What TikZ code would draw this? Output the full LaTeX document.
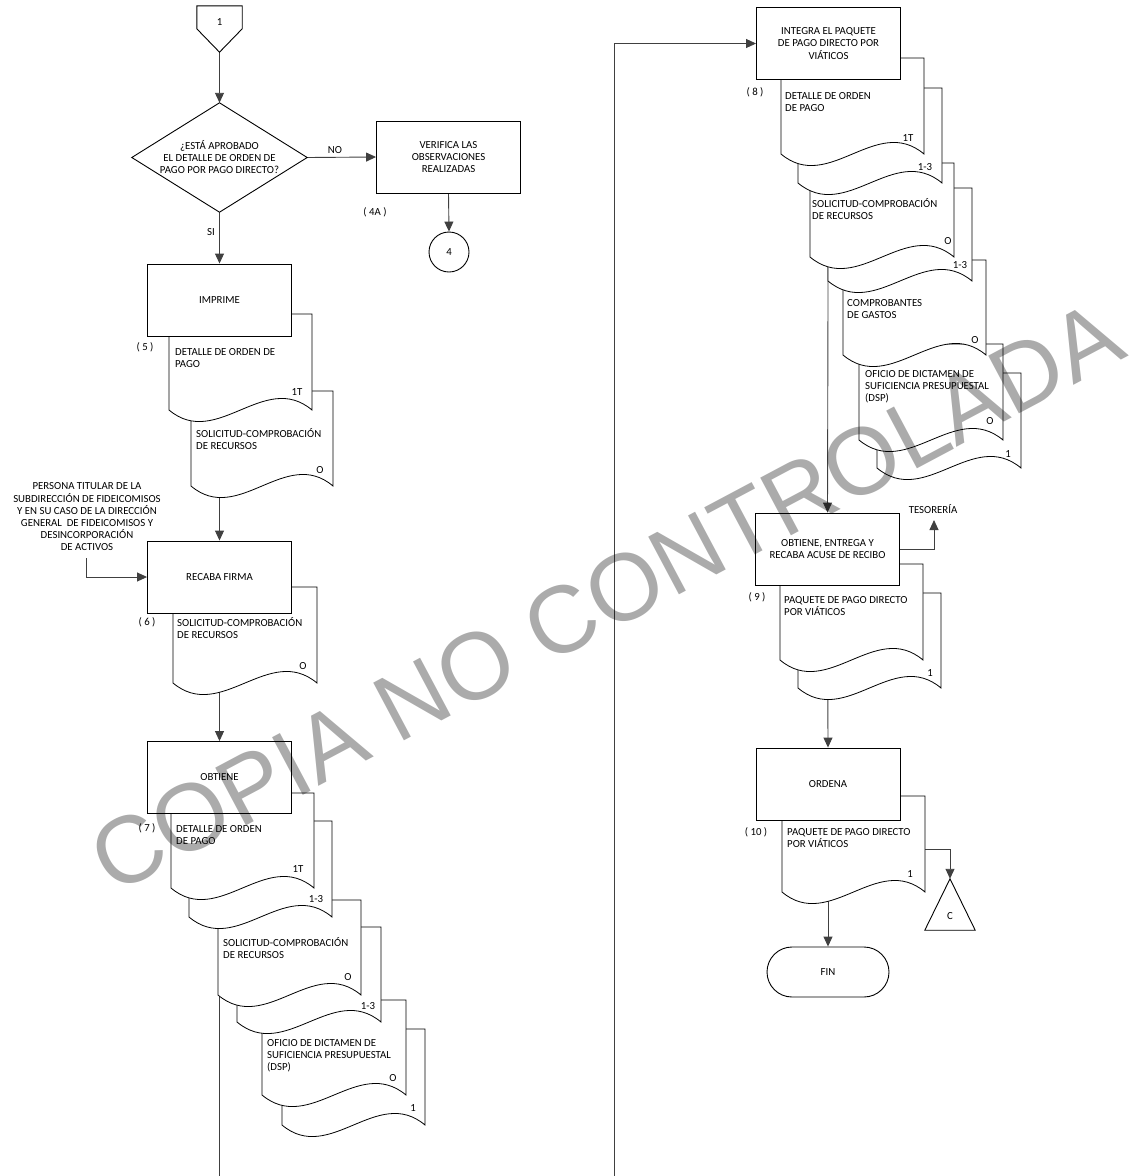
\documentclass[tikz,border=0pt]{standalone}
\usepackage{fontspec}
\setmainfont{Carlito}
\newfontfamily\wmfont{Liberation Sans}
\usetikzlibrary{arrows.meta,calc}
\pgfdeclarelayer{bg}
\pgfdeclarelayer{docs}
\pgfdeclarelayer{wm}
\pgfsetlayers{bg,docs,main,wm}
\newcommand\docsh[4]{%
  \draw[docline] (#1,#2) -- (#3,#2) -- (#3,#4)
    .. controls ($(#1,#4)!0.667!(#3,#4)+(0,-40)$) and ($(#1,#4)!0.333!(#3,#4)+(0,40)$) .. (#1,#4) -- cycle;}
\tikzset{
  txt/.style={font=\fontsize{10.8}{12.2}\selectfont},
  proc/.style={txt, draw=black, fill=white, line width=0.9pt, minimum width=144, minimum height=72, align=center, inner sep=2pt},
  shapeline/.style={draw=black, line width=0.9pt, fill=white},
  conn/.style={line width=0.9pt, draw=black!75, -{Triangle[length=10pt,width=9pt]}},
  plainconn/.style={line width=0.9pt, draw=black!75},
  docline/.style={draw=black, fill=white, line width=0.8pt},
  dtxt/.style={txt, anchor=base west, align=left, inner sep=0pt},
  nlab/.style={txt, anchor=base, inner sep=0pt},
  clab/.style={txt, inner sep=0pt}
}
\begin{document}
\begin{tikzpicture}[x=1pt,y=-1pt]
\useasboundingbox (0,0) rectangle (1146,1176);

% ---------------- process boxes ----------------
\node[proc] (imprime) at (219.5,300) {IMPRIME};
\node[proc] (recaba) at (219.5,577) {RECABA FIRMA};
\node[proc] (obtiene) at (219.5,777.5) {OBTIENE};
\node[proc] (verif) at (448.5,157) {VERIFICA LAS\\OBSERVACIONES\\REALIZADAS};
\node[proc] (integra) at (828.5,43.5) {INTEGRA EL PAQUETE\\DE PAGO DIRECTO POR\\VIÁTICOS};
\node[proc] (obt2) at (827.5,549) {OBTIENE, ENTREGA Y\\RECABA ACUSE DE RECIBO};
\node[proc] (ordena) at (828,784) {ORDENA};
\node[txt, draw=black, fill=white, line width=0.9pt, rounded corners=25pt, minimum width=122, minimum height=50] (fin) at (828,972) {FIN};
\node[txt, draw=black, line width=0.9pt, circle, minimum size=40, inner sep=0pt] (c4) at (449,252) {4};

% decision
\node[minimum width=175, minimum height=109, inner sep=0pt] (dec) at (219.5,157.5) {};
\draw[shapeline] (dec.north) -- (dec.east) -- (dec.south) -- (dec.west) -- cycle;
\node[txt, align=center, inner sep=0pt] (dectxt) at (219.5,157) {¿ESTÁ APROBADO\\EL DETALLE DE ORDEN DE\\PAGO POR PAGO DIRECTO?};

% off-page connector 1
\node[minimum width=45, minimum height=46, inner sep=0pt] (p1) at (219.5,29) {};
\draw[shapeline] (p1.north west) -- (p1.north east) -- ($(p1.north east)+(0,23)$) -- (p1.south) -- ($(p1.north west)+(0,23)$) -- cycle;
\node[clab] (p1lab) at (219.5,22) {1};

% triangle C
\node[minimum width=50, minimum height=51, inner sep=0pt] (tc) at (950,904.5) {};
\draw[shapeline] (tc.north) -- (tc.south east) -- (tc.south west) -- cycle;
\node[clab] (tclab) at (950,916) {C};

% ---------------- free labels ----------------
\node[clab] (lno) at (335,150) {NO};
\node[clab] (lsi) at (211,232) {SI};
\node[clab] (l4a) at (375,212) {( 4A )};
\node[clab] (l5) at (145,347) {( 5 )};
\node[clab] (l6) at (147,622) {( 6 )};
\node[clab] (l7) at (147,828) {( 7 )};
\node[clab] (l8) at (755,92) {( 8 )};
\node[clab] (l9) at (757,597) {( 9 )};
\node[clab] (l10) at (756,832) {( 10 )};
\node[txt, align=center, inner sep=0pt] (pers) at (87,517) {PERSONA TITULAR DE LA\\SUBDIRECCIÓN DE FIDEICOMISOS\\Y EN SU CASO DE LA DIRECCIÓN\\GENERAL\ \ DE FIDEICOMISOS Y\\DESINCORPORACIÓN\\DE ACTIVOS};
\node[clab] (tes) at (933,509) {TESORERÍA};
\coordinate (persstart) at (86,558);
\coordinate (tesarr) at (934,520);
\coordinate (cstart) at (925,849);
\coordinate (leftend) at (219.5,1176);
\coordinate (rightend) at (614,1176);

% ---------------- connectors ----------------
\begin{pgfonlayer}{bg}
\draw[conn] (p1.south) -- (dec.north);
\draw[conn] (dec.east) -- (verif.west);
\draw[conn] (verif.south) -- (c4.north);
\draw[conn] (dec.south) -- (imprime.north);
\draw[conn] (imprime.south) -- (recaba.north);
\draw[conn] (persstart) |- (recaba.west);
\draw[conn] (recaba.south) -- (obtiene.north);
\draw[plainconn] (obtiene.south) -- (leftend);
\draw[conn] (rightend) |- (integra.west);
\draw[conn] (integra.south) -- (obt2.north);
\draw[conn] (obt2.east) -| (tesarr);
\draw[conn] (obt2.south) -- (ordena.north);
\draw[conn] (cstart) -| (tc.north);
\draw[conn] (ordena.south) -- (fin.north);
\end{pgfonlayer}

% ---------------- documents ----------------
\begin{pgfonlayer}{docs}
% step 5
\docsh{191}{391}{333}{486}
\docsh{169}{314}{312}{410}
% step 6
\docsh{173}{587}{317}{683}
% step 7
\docsh{282}{1029}{425}{1125}
\docsh{262}{1000}{406}{1095}
\docsh{237}{927}{381}{1022}
\docsh{218}{900}{361}{995}
\docsh{189}{821}{332}{917}
\docsh{171}{793}{314}{888}
% step 8
\docsh{877}{373}{1021}{468}
\docsh{859}{344}{1003}{440}
\docsh{843}{260}{986}{355}
\docsh{828}{188}{972}{281}
\docsh{810}{163}{954}{257}
\docsh{798}{88}{942}{183}
\docsh{781}{58}{924}{154}
% step 9
\docsh{798}{593}{941}{688}
\docsh{780}{564}{923}{660}
% step 10
\docsh{782}{796}{925}{892}
\end{pgfonlayer}

% ---------------- document texts (base = last line) ----------------
% step 5
\node[dtxt] (t5a) at (175,367.2) {DETALLE DE ORDEN DE\\PAGO};
\node[nlab] (t5b) at (297,395) {1T};
\node[dtxt] (t5c) at (196,449.2) {SOLICITUD-COMPROBACIÓN\\DE RECURSOS};
\node[nlab] (t5d) at (320,473) {O};
% step 6
\node[dtxt] (t6a) at (177,638.2) {SOLICITUD-COMPROBACIÓN\\DE RECURSOS};
\node[nlab] (t6b) at (303,669) {O};
% step 7
\node[dtxt] (t7a) at (176,844.2) {DETALLE DE ORDEN\\DE PAGO};
\node[nlab] (t7b) at (298,872) {1T};
\node[nlab] (t7c) at (316,902) {1-3};
\node[dtxt] (t7d) at (223,958.2) {SOLICITUD-COMPROBACIÓN\\DE RECURSOS};
\node[nlab] (t7e) at (348,980) {O};
\node[nlab] (t7f) at (368,1009) {1-3};
\node[dtxt] (t7g) at (267,1070.4) {OFICIO DE DICTAMEN DE\\SUFICIENCIA PRESUPUESTAL\\(DSP)};
\node[nlab] (t7h) at (393,1081) {O};
\node[nlab] (t7i) at (413,1111) {1};
% step 8
\node[dtxt] (t8a) at (785,111.2) {DETALLE DE ORDEN\\DE PAGO};
\node[nlab] (t8b) at (908,141) {1T};
\node[nlab] (t8c) at (925,170) {1-3};
\node[dtxt] (t8d) at (812,219.2) {SOLICITUD-COMPROBACIÓN\\DE RECURSOS};
\node[nlab] (t8e) at (948,244) {O};
\node[nlab] (t8f) at (960,268) {1-3};
\node[dtxt] (t8g) at (847,318.2) {COMPROBANTES\\DE GASTOS};
\node[nlab] (t8h) at (975,343) {O};
\node[dtxt] (t8i) at (865,401.4) {OFICIO DE DICTAMEN DE\\SUFICIENCIA PRESUPUESTAL\\(DSP)};
\node[nlab] (t8j) at (990,424) {O};
\node[nlab] (t8k) at (1008,457) {1};
% step 9
\node[dtxt] (t9a) at (784,615.2) {PAQUETE DE PAGO DIRECTO\\POR VIÁTICOS};
\node[nlab] (t9b) at (930,676) {1};
% step 10
\node[dtxt] (t10a) at (787,847.2) {PAQUETE DE PAGO DIRECTO\\POR VIÁTICOS};
\node[nlab] (t10b) at (910,877) {1};

% ---------------- watermark ----------------
\begin{pgfonlayer}{wm}
\node[rotate=28, font=\wmfont\fontsize{95}{95}\selectfont, text=black, text opacity=0.33, inner sep=0pt] (wmk) at (606,597) {COPIA NO CONTROLADA};
\end{pgfonlayer}
\end{tikzpicture}
\end{document}
